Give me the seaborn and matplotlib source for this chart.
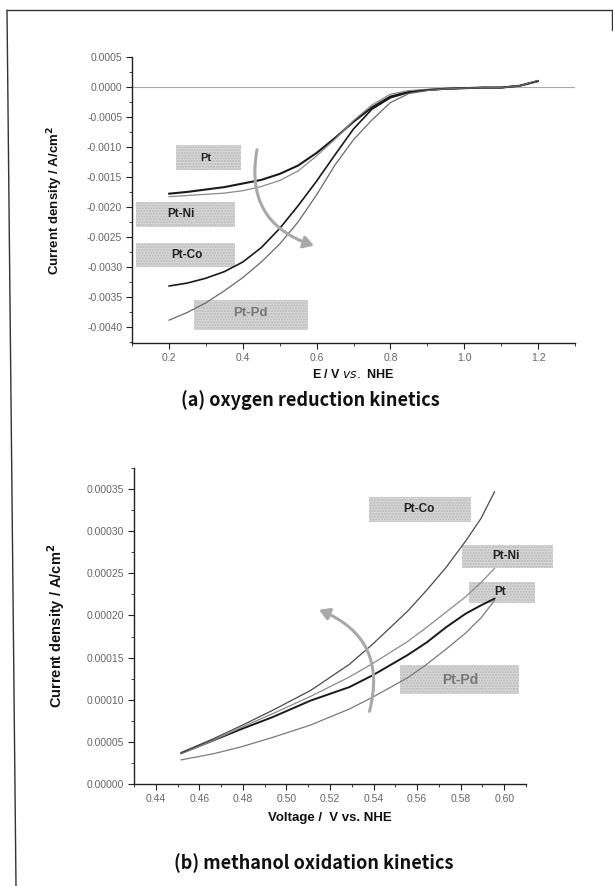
import matplotlib
matplotlib.use("Agg")
import matplotlib.pyplot as plt
from matplotlib.patches import Rectangle
from matplotlib.lines import Line2D
from matplotlib.ticker import MultipleLocator, FormatStrFormatter
import seaborn as sns
import pandas as pd

# ---------------- data: (a) oxygen reduction ----------------
orr_v = [0.20, 0.25, 0.30, 0.35, 0.40, 0.45, 0.50, 0.55, 0.60, 0.65, 0.70,
         0.75, 0.80, 0.85, 0.90, 0.95, 1.00, 1.05, 1.10, 1.15, 1.20]
orr_pt = [-0.00178, -0.00175, -0.00171, -0.00167, -0.00161, -0.00155, -0.00145,
          -0.00131, -0.00110, -0.00085, -0.00058, -0.00034, -0.00016, -0.00008,
          -0.00005, -0.00003, -0.00002, -0.00001, -0.00001, 0.00002, 0.00010]
orr_ptni = [-0.00183, -0.00181, -0.00179, -0.00177, -0.00173, -0.00166, -0.00156,
            -0.00140, -0.00115, -0.00087, -0.00056, -0.00030, -0.00012, -0.00006,
            -0.00004, -0.00003, -0.00002, -0.00001, -0.00001, 0.00002, 0.00009]
orr_ptco = [-0.00332, -0.00327, -0.00319, -0.00308, -0.00292, -0.00268, -0.00236,
            -0.00198, -0.00157, -0.00113, -0.00070, -0.00037, -0.00018, -0.00009,
            -0.00005, -0.00003, -0.00002, -0.00001, -0.00001, 0.00002, 0.00010]
orr_ptpd = [-0.00389, -0.00376, -0.00360, -0.00340, -0.00318, -0.00292, -0.00262,
            -0.00225, -0.00180, -0.00130, -0.00088, -0.00055, -0.00026, -0.00011,
            -0.00006, -0.00003, -0.00002, -0.00001, -0.00001, 0.00002, 0.00011]

# ---------------- data: (b) methanol oxidation ----------------
mor_v = [0.4516, 0.4667, 0.4791, 0.4933, 0.5111, 0.5289, 0.5396, 0.5556,
         0.5644, 0.5733, 0.5822, 0.5893, 0.5956]
mor_pt = [3.65e-5, 5.2e-5, 6.5e-5, 7.9e-5, 9.9e-5, 1.15e-4, 1.29e-4, 1.53e-4,
          1.68e-4, 1.86e-4, 2.02e-4, 2.12e-4, 2.20e-4]
mor_ptni = [3.57e-5, 5.2e-5, 6.7e-5, 8.3e-5, 1.04e-4, 1.27e-4, 1.43e-4, 1.69e-4,
            1.86e-4, 2.04e-4, 2.22e-4, 2.39e-4, 2.56e-4]
mor_ptco = [3.73e-5, 5.4e-5, 6.9e-5, 8.7e-5, 1.11e-4, 1.42e-4, 1.66e-4, 2.05e-4,
            2.30e-4, 2.57e-4, 2.88e-4, 3.15e-4, 3.47e-4]
mor_ptpd = [2.86e-5, 3.6e-5, 4.4e-5, 5.5e-5, 7.0e-5, 8.9e-5, 1.03e-4, 1.26e-4,
            1.42e-4, 1.60e-4, 1.79e-4, 1.97e-4, 2.18e-4]

catalysts = ["Pt", "Pt-Ni", "Pt-Co", "Pt-Pd"]

orr_df = pd.concat([
    pd.DataFrame({"E": orr_v, "j": vals, "cat": name})
    for name, vals in zip(catalysts, [orr_pt, orr_ptni, orr_ptco, orr_ptpd])
])
mor_df = pd.concat([
    pd.DataFrame({"E": mor_v, "j": vals, "cat": name})
    for name, vals in zip(catalysts, [mor_pt, mor_ptni, mor_ptco, mor_ptpd])
])

sns.set_theme(style="ticks")
plt.rcParams["font.family"] = ["Liberation Sans", "DejaVu Sans"]

fig = plt.figure(figsize=(6.13, 8.86), dpi=100)

tick_color = "#666666"

top_colors = {"Pt": "#1a1a1a", "Pt-Ni": "#8a8a8a", "Pt-Co": "#1a1a1a", "Pt-Pd": "#6a6a6a"}
top_lw = {"Pt": 1.5, "Pt-Ni": 0.9, "Pt-Co": 1.2, "Pt-Pd": 0.9}
bot_colors = {"Pt": "#1a1a1a", "Pt-Ni": "#8a8a8a", "Pt-Co": "#4a4a4a", "Pt-Pd": "#7a7a7a"}
bot_lw = {"Pt": 1.4, "Pt-Ni": 0.9, "Pt-Co": 0.9, "Pt-Pd": 0.9}


def style_axes(ax):
    for s in ["top", "right"]:
        ax.spines[s].set_visible(False)
    for s in ["left", "bottom"]:
        ax.spines[s].set_color("#222222")
        ax.spines[s].set_linewidth(1.0)
    ax.tick_params(which="major", direction="out", length=4, width=0.8,
                   color="#222222", labelsize=7.5, labelcolor=tick_color, pad=3)
    ax.tick_params(which="minor", direction="out", length=2.2, width=0.6,
                   color="#222222")
    ax.grid(False)


def label_box(ax, x0, y0, w, h, text, tx, ty, size=8, color="#222222"):
    ax.add_patch(Rectangle((x0, y0), w, h, facecolor="#d8d8d8", edgecolor="#b8b8b8",
                           linewidth=0, hatch="......", clip_on=False, zorder=1))
    ax.text(tx, ty, text, fontsize=size, fontweight="bold", color=color,
            ha="center", va="center", zorder=3, clip_on=False)


# ---------------- top panel ----------------
ax1 = fig.add_axes([132 / 613, 1 - 343 / 886, (575 - 132) / 613, (343 - 57) / 886])
ax1.axhline(0, color="#aaaaaa", lw=0.8, zorder=0)
for name in catalysts:
    sub = orr_df[orr_df["cat"] == name]
    sns.lineplot(data=sub, x="E", y="j", ax=ax1, color=top_colors[name],
                 lw=top_lw[name], sort=False, estimator=None, legend=False, zorder=2)
ax1.set_xlim(0.1, 1.3)
ax1.set_ylim(-0.00427, 0.0005)
ax1.xaxis.set_major_locator(MultipleLocator(0.2))
ax1.xaxis.set_minor_locator(MultipleLocator(0.1))
ax1.yaxis.set_major_locator(MultipleLocator(0.0005))
ax1.yaxis.set_minor_locator(MultipleLocator(0.00025))
ax1.xaxis.set_major_formatter(FormatStrFormatter("%.1f"))
ax1.yaxis.set_major_formatter(FormatStrFormatter("%.4f"))
style_axes(ax1)
ax1.set_xlabel(r"E / V $\bf{\it{vs.}}$ NHE", labelpad=4, fontsize=9,
               fontweight="bold", color="#111111")
ax1.set_ylabel(r"Current density / A/cm$^\mathbf{2}$", labelpad=16, fontsize=9.5,
               fontweight="bold", color="#111111")

label_box(ax1, 0.219, -0.00138, 0.175, 0.00041, "Pt", 0.30, -0.00118)
label_box(ax1, 0.11, -0.00233, 0.27, 0.00041, "Pt-Ni", 0.232, -0.00212, size=8.5)
label_box(ax1, 0.11, -0.0030, 0.27, 0.00040, "Pt-Co", 0.25, -0.0028, size=8.5)
label_box(ax1, 0.267, -0.00405, 0.31, 0.00050, "Pt-Pd", 0.42, -0.00377,
          size=9.5, color="#777777")

ax1.annotate("", xy=(0.60, -0.00266), xytext=(0.44, -0.00100),
             arrowprops=dict(arrowstyle="-|>,head_length=0.5,head_width=0.3",
                             color="#a8a8a8", lw=2.2,
                             connectionstyle="arc3,rad=0.45"), zorder=4)

# ---------------- bottom panel ----------------
ax2 = fig.add_axes([134 / 613, 1 - 784 / 886, (526 - 134) / 613, (784 - 468) / 886])
for name in catalysts:
    sub = mor_df[mor_df["cat"] == name]
    sns.lineplot(data=sub, x="E", y="j", ax=ax2, color=bot_colors[name],
                 lw=bot_lw[name], sort=False, estimator=None, legend=False, zorder=2)
ax2.set_xlim(0.43, 0.61)
ax2.set_ylim(0, 0.000375)
ax2.xaxis.set_major_locator(MultipleLocator(0.02))
ax2.xaxis.set_minor_locator(MultipleLocator(0.01))
ax2.yaxis.set_major_locator(MultipleLocator(0.00005))
ax2.yaxis.set_minor_locator(MultipleLocator(0.000025))
ax2.xaxis.set_major_formatter(FormatStrFormatter("%.2f"))
ax2.yaxis.set_major_formatter(FormatStrFormatter("%.5f"))
style_axes(ax2)
ax2.set_xlabel("Voltage /  V vs. NHE", labelpad=6, fontsize=9.5,
               fontweight="bold", color="#111111")
ax2.set_ylabel(r"Current density / A/cm$^\mathbf{2}$", labelpad=14,
               fontsize=10.5, fontweight="bold", color="#111111")

label_box(ax2, 0.5378, 3.11e-4, 0.0471, 2.9e-5, "Pt-Co", 0.561, 3.26e-4, size=8.5)
label_box(ax2, 0.5804, 2.56e-4, 0.0418, 2.8e-5, "Pt-Ni", 0.6009, 2.70e-4, size=8.5)
label_box(ax2, 0.584, 2.15e-4, 0.030, 2.5e-5, "Pt", 0.598, 2.28e-4, size=8.5)
label_box(ax2, 0.552, 1.07e-4, 0.055, 3.4e-5, "Pt-Pd", 0.5796, 1.23e-4,
          size=10, color="#777777")

ax2.annotate("", xy=(0.5138, 2.08e-4), xytext=(0.5378, 8.3e-5),
             arrowprops=dict(arrowstyle="-|>,head_length=0.5,head_width=0.3",
                             color="#a8a8a8", lw=2.2,
                             connectionstyle="arc3,rad=0.45"), zorder=4)

# ---------------- captions ----------------
cap_kw = dict(fontsize=13, fontweight="bold", color="#111111", ha="center", va="center",
              family=["Noto Sans CJK KR", "DejaVu Sans"])
fig.text(310 / 613, 1 - 400 / 886, "(a) oxygen reduction kinetics", **cap_kw)
fig.text(314 / 613, 1 - 863 / 886, "(b) methanol oxidation kinetics", **cap_kw)

# scanned frame lines
fig.add_artist(Line2D([7 / 613, 612 / 613], [1 - 10 / 886, 1 - 10 / 886],
                      color="#333333", lw=1.0))
fig.add_artist(Line2D([612 / 613, 612 / 613], [1 - 10 / 886, 1 - 30 / 886],
                      color="#333333", lw=1.0))
fig.add_artist(Line2D([7 / 613, 16 / 613], [1 - 10 / 886, 0.0],
                      color="#333333", lw=1.0))

fig.savefig("out.png", dpi=100)
